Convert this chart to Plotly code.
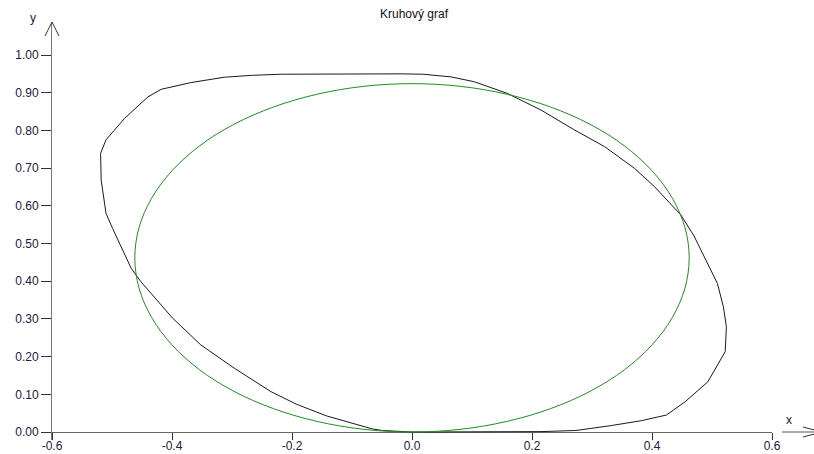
import plotly.graph_objects as go

# ---- data ----
black_x = [0.215, 0.273, 0.332, 0.382, 0.424, 0.455, 0.493, 0.522, 0.524, 0.519,
           0.509, 0.490, 0.470, 0.448, 0.404, 0.371, 0.321, 0.271, 0.215, 0.159,
           0.104, 0.065, 0.018, -0.018, -0.218, -0.268, -0.313, -0.368, -0.418, -0.440,
           -0.479, -0.510, -0.519, -0.518, -0.510, -0.499, -0.468, -0.452, -0.399, -0.352,
           -0.296, -0.235, -0.193, -0.143, -0.096, -0.066, -0.049, 0.000, 0.215]
black_y = [0.001, 0.004, 0.017, 0.030, 0.045, 0.080, 0.133, 0.213, 0.279, 0.332,
           0.394, 0.456, 0.520, 0.576, 0.651, 0.699, 0.757, 0.801, 0.854, 0.898,
           0.929, 0.942, 0.949, 0.950, 0.949, 0.946, 0.941, 0.927, 0.909, 0.889,
           0.832, 0.775, 0.739, 0.668, 0.580, 0.540, 0.434, 0.399, 0.302, 0.231,
           0.169, 0.107, 0.074, 0.043, 0.021, 0.008, 0.004, 0.000, 0.001]

green_x = [0.000, 0.080, 0.158, 0.231, 0.297, 0.354, 0.400, 0.434, 0.455, 0.462,
           0.455, 0.434, 0.400, 0.354, 0.297, 0.231, 0.158, 0.080, 0.000,
           -0.080, -0.158, -0.231, -0.297, -0.354, -0.400, -0.434, -0.455, -0.462,
           -0.455, -0.434, -0.400, -0.354, -0.297, -0.231, -0.158, -0.080, 0.000]
green_y = [0.000, 0.007, 0.028, 0.062, 0.108, 0.165, 0.231, 0.304, 0.382, 0.462,
           0.542, 0.620, 0.693, 0.759, 0.816, 0.862, 0.896, 0.917, 0.924,
           0.917, 0.896, 0.862, 0.816, 0.759, 0.693, 0.620, 0.542, 0.462,
           0.382, 0.304, 0.231, 0.165, 0.108, 0.062, 0.028, 0.007, 0.000]

x_ticks = [-0.6, -0.4, -0.2, 0.0, 0.2, 0.4, 0.6]
x_tick_labels = ["-0.6", "-0.4", "-0.2", "0.0", "0.2", "0.4", "0.6"]
y_ticks = [0.0, 0.1, 0.2, 0.3, 0.4, 0.5, 0.6, 0.7, 0.8, 0.9, 1.0]
y_tick_labels = ["0.00", "0.10", "0.20", "0.30", "0.40", "0.50", "0.60", "0.70", "0.80", "0.90", "1.00"]

title_text = "Kruhový graf"

# ---- layout geometry (pixels) ----
W, H = 814, 454
L, R = 52, 772          # x = -0.6 .. 0.6
T, B = 22, 440          # plot area top / bottom
Y0, Y1 = 432, 55        # pixel of y=0 and y=1
ypu = (Y0 - Y1)

y_lo = (Y0 - B) / ypu
y_hi = (Y0 - T) / ypu


def pxx(p):
    return (p - L) / (R - L)


def pxy(p):
    return (B - p) / (B - T)


text_col = "#20203a"
font = "Liberation Sans, Arial, sans-serif"

fig = go.Figure()
fig.add_trace(go.Scatter(x=black_x, y=black_y, mode="lines",
                         line=dict(color="#1a1a1a", width=1), hoverinfo="skip"))
fig.add_trace(go.Scatter(x=green_x, y=green_y, mode="lines",
                         line=dict(color="#1f8f1f", width=1, shape="spline"),
                         hoverinfo="skip"))

fig.update_layout(
    width=W, height=H,
    margin=dict(l=L, r=W - R, t=T, b=H - B, pad=0),
    paper_bgcolor="white", plot_bgcolor="white",
    showlegend=False,
    font=dict(family=font, size=12, color=text_col),
    xaxis=dict(range=[-0.6, 0.6], tickvals=x_ticks, ticktext=x_tick_labels,
               anchor="free", position=pxy(Y0),
               showline=True, linecolor="#666666", linewidth=1,
               ticks="outside", ticklen=7, tickcolor="#333333",
               ticklabelstandoff=-4,
               showgrid=False, zeroline=False, layer="below traces",
               automargin=False, fixedrange=True),
    yaxis=dict(range=[y_lo, y_hi], tickvals=y_ticks, ticktext=y_tick_labels,
               showline=True, linecolor="#777777", linewidth=1,
               ticks="outside", ticklen=10, tickcolor="#333333",
               showgrid=False, zeroline=False, layer="below traces",
               automargin=False, fixedrange=True),
)

# arrows on the axes
shapes = []
shapes.append(dict(type="path", xref="paper", yref="paper",
                   path=f"M {pxx(45)} {pxy(36)} L {pxx(52)} {pxy(22)} L {pxx(59)} {pxy(36)}",
                   line=dict(color="#333333", width=1)))
shapes.append(dict(type="line", xref="paper", yref="paper",
                   x0=pxx(782), y0=pxy(Y0), x1=pxx(822), y1=pxy(Y0),
                   line=dict(color="#555555", width=1)))
shapes.append(dict(type="path", xref="paper", yref="paper",
                   path=f"M {pxx(803)} {pxy(427)} L {pxx(822)} {pxy(Y0)} L {pxx(803)} {pxy(437)}",
                   line=dict(color="#333333", width=1)))
fig.update_layout(shapes=shapes)

fig.add_annotation(text="y", xref="paper", yref="paper", x=pxx(33), y=pxy(18),
                   xanchor="center", yanchor="middle",
                   showarrow=False, font=dict(size=12, color=text_col))
fig.add_annotation(text="x", xref="paper", yref="paper", x=pxx(789), y=pxy(420),
                   xanchor="center", yanchor="middle",
                   showarrow=False, font=dict(size=12, color=text_col))
fig.add_annotation(text=title_text, xref="paper", yref="paper", x=pxx(414), y=pxy(14),
                   xanchor="center", yanchor="middle",
                   showarrow=False, font=dict(size=12, color="#111111"))

fig.write_html("out.html", config={"displayModeBar": False})
